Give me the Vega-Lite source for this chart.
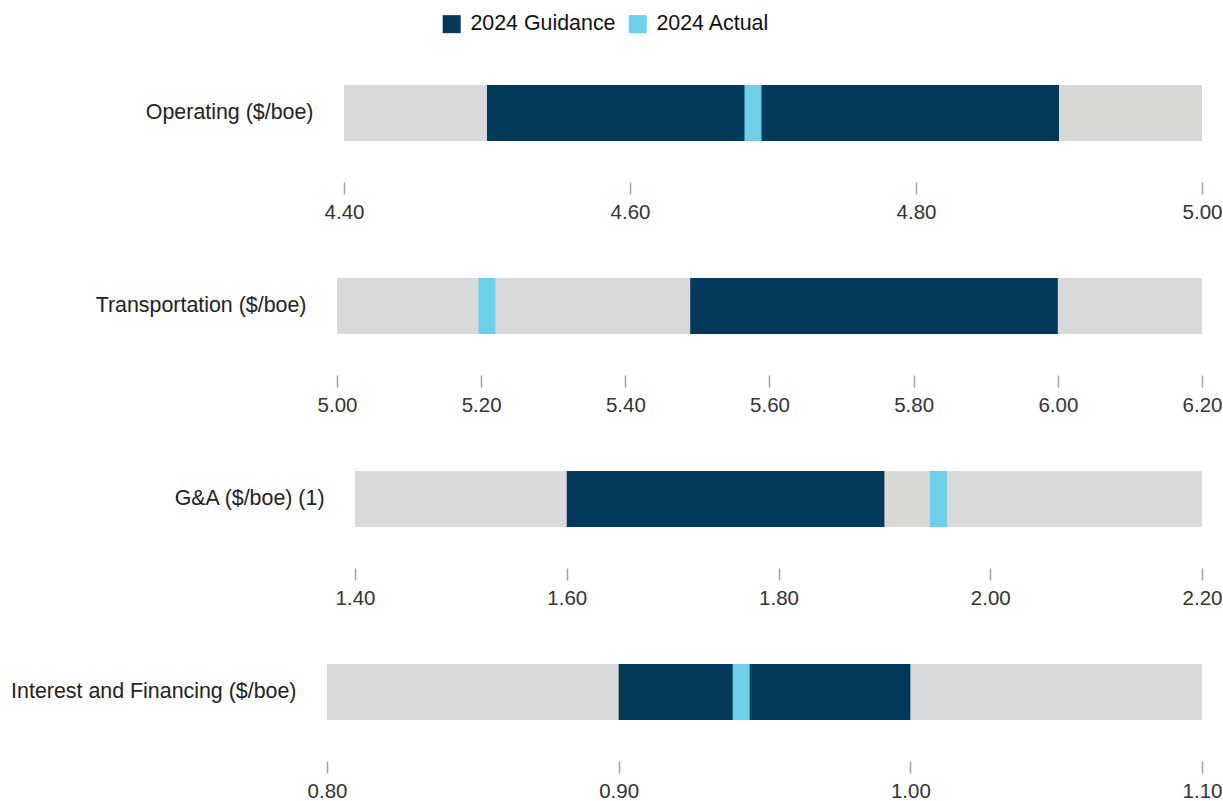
{
  "$schema": "https://vega.github.io/schema/vega-lite/v6.json",
  "padding": {"left": 10, "top": 13, "right": 0, "bottom": 0},
  "background": "white",
  "bounds": "flush",
  "spacing": 137,
  "config": {
    "font": "Liberation Sans",
    "view": {"stroke": null},
    "axisX": {"domain": false, "grid": false, "offset": 41, "tickSize": 12, "tickColor": "#a3a3a6", "tickWidth": 1.5, "labelFontSize": 20.5, "labelColor": "#333333", "labelPadding": 8, "labelFlush": false, "labelOverlap": false, "title": null, "format": ".2f"},
    "axisY": {"domain": false, "grid": false, "ticks": false, "tickSize": 0, "labelFontSize": 21.4, "labelLimit": 0, "labelColor": "#222222", "title": null}
  },
  "datasets": {
    "bars": [
      {"metric": "Operating ($/boe)", "series": "Range", "start": 4.40, "end": 5.00},
      {"metric": "Operating ($/boe)", "series": "Range (prior)", "start": 4.90, "end": 5.00},
      {"metric": "Operating ($/boe)", "series": "2024 Guidance", "start": 4.50, "end": 4.90},
      {"metric": "Transportation ($/boe)", "series": "Range", "start": 5.00, "end": 6.20},
      {"metric": "Transportation ($/boe)", "series": "2024 Guidance", "start": 5.49, "end": 6.00},
      {"metric": "G&A ($/boe) (1)", "series": "Range", "start": 1.40, "end": 2.20},
      {"metric": "G&A ($/boe) (1)", "series": "Range (prior)", "start": 1.90, "end": 1.942},
      {"metric": "G&A ($/boe) (1)", "series": "2024 Guidance", "start": 1.60, "end": 1.90},
      {"metric": "Interest and Financing ($/boe)", "series": "Range", "start": 0.80, "end": 1.10},
      {"metric": "Interest and Financing ($/boe)", "series": "2024 Guidance", "start": 0.90, "end": 1.00}
    ],
    "actual": [
      {"metric": "Operating ($/boe)", "series": "2024 Actual", "value": 4.686},
      {"metric": "Transportation ($/boe)", "series": "2024 Actual", "value": 5.208},
      {"metric": "G&A ($/boe) (1)", "series": "2024 Actual", "value": 1.951},
      {"metric": "Interest and Financing ($/boe)", "series": "2024 Actual", "value": 0.942}
    ]
  },
  "vconcat": [
    {
      "width": 875, "height": 56,
      "layer": [
        {
          "data": {"name": "bars"},
          "transform": [{"filter": "datum.metric === 'Operating ($/boe)'"}],
          "mark": {"type": "bar"},
          "encoding": {
            "x": {"field": "start", "type": "quantitative", "scale": {"domain": [4.40, 5.00], "range": [17, 875], "nice": false, "zero": false}, "axis": {"values": [4.40, 4.60, 4.80, 5.00]}},
            "x2": {"field": "end"},
            "y": {"field": "metric", "type": "nominal", "scale": {"paddingInner": 0, "paddingOuter": 0}, "axis": {"labelPadding": 14}},
            "color": {"field": "series", "type": "nominal", "scale": {"domain": ["Range", "Range (prior)", "2024 Guidance", "2024 Actual"], "range": ["#d9dadc", "#d8d8d4", "#033a5c", "#6dcfe8"]},
              "legend": {"values": ["2024 Guidance", "2024 Actual"], "title": null, "orient": "none", "legendX": 114, "legendY": -72, "direction": "horizontal", "symbolType": "square", "symbolSize": 324, "symbolStrokeWidth": 0, "labelFontSize": 21.4, "labelColor": "#111111", "labelOffset": 8, "columnPadding": 11,
                "encode": {"symbols": {"update": {"fill": {"signal": "datum.label === '2024 Guidance' ? '#0b2f3b' : '#6dcfe8'"}, "strokeWidth": {"value": 0}}}}}}
          }
        },
        {
          "data": {"name": "actual"},
          "transform": [{"filter": "datum.metric === 'Operating ($/boe)'"}],
          "mark": {"type": "tick", "thickness": 17, "size": 56, "opacity": 1},
          "encoding": {
            "x": {"field": "value", "type": "quantitative"},
            "y": {"field": "metric", "type": "nominal"},
            "color": {"field": "series", "type": "nominal"}
          }
        }
      ]
    },
    {
      "width": 875, "height": 56,
      "layer": [
        {
          "data": {"name": "bars"},
          "transform": [{"filter": "datum.metric === 'Transportation ($/boe)'"}],
          "mark": {"type": "bar"},
          "encoding": {
            "x": {"field": "start", "type": "quantitative", "scale": {"domain": [5.00, 6.20], "range": [10, 875], "nice": false, "zero": false}, "axis": {"values": [5.00, 5.20, 5.40, 5.60, 5.80, 6.00, 6.20]}},
            "x2": {"field": "end"},
            "y": {"field": "metric", "type": "nominal", "scale": {"paddingInner": 0, "paddingOuter": 0}, "axis": {"labelPadding": 21}},
            "color": {"field": "series", "type": "nominal"}
          }
        },
        {
          "data": {"name": "actual"},
          "transform": [{"filter": "datum.metric === 'Transportation ($/boe)'"}],
          "mark": {"type": "tick", "thickness": 17, "size": 56, "opacity": 1},
          "encoding": {
            "x": {"field": "value", "type": "quantitative"},
            "y": {"field": "metric", "type": "nominal"},
            "color": {"field": "series", "type": "nominal"}
          }
        }
      ]
    },
    {
      "width": 875, "height": 56,
      "layer": [
        {
          "data": {"name": "bars"},
          "transform": [{"filter": "datum.metric === 'G&A ($/boe) (1)'"}],
          "mark": {"type": "bar"},
          "encoding": {
            "x": {"field": "start", "type": "quantitative", "scale": {"domain": [1.40, 2.20], "range": [28, 875], "nice": false, "zero": false}, "axis": {"values": [1.40, 1.60, 1.80, 2.00, 2.20]}},
            "x2": {"field": "end"},
            "y": {"field": "metric", "type": "nominal", "scale": {"paddingInner": 0, "paddingOuter": 0}, "axis": {"labelPadding": 3}},
            "color": {"field": "series", "type": "nominal"}
          }
        },
        {
          "data": {"name": "actual"},
          "transform": [{"filter": "datum.metric === 'G&A ($/boe) (1)'"}],
          "mark": {"type": "tick", "thickness": 17, "size": 56, "opacity": 1},
          "encoding": {
            "x": {"field": "value", "type": "quantitative"},
            "y": {"field": "metric", "type": "nominal"},
            "color": {"field": "series", "type": "nominal"}
          }
        }
      ]
    },
    {
      "width": 875, "height": 56,
      "layer": [
        {
          "data": {"name": "bars"},
          "transform": [{"filter": "datum.metric === 'Interest and Financing ($/boe)'"}],
          "mark": {"type": "bar"},
          "encoding": {
            "x": {"field": "start", "type": "quantitative", "scale": {"domain": [0.80, 1.10], "range": [0, 875], "nice": false, "zero": false}, "axis": {"values": [0.80, 0.90, 1.00, 1.10]}},
            "x2": {"field": "end"},
            "y": {"field": "metric", "type": "nominal", "scale": {"paddingInner": 0, "paddingOuter": 0}, "axis": {"labelPadding": 31}},
            "color": {"field": "series", "type": "nominal"}
          }
        },
        {
          "data": {"name": "actual"},
          "transform": [{"filter": "datum.metric === 'Interest and Financing ($/boe)'"}],
          "mark": {"type": "tick", "thickness": 17, "size": 56, "opacity": 1},
          "encoding": {
            "x": {"field": "value", "type": "quantitative"},
            "y": {"field": "metric", "type": "nominal"},
            "color": {"field": "series", "type": "nominal"}
          }
        }
      ]
    }
  ]
}
